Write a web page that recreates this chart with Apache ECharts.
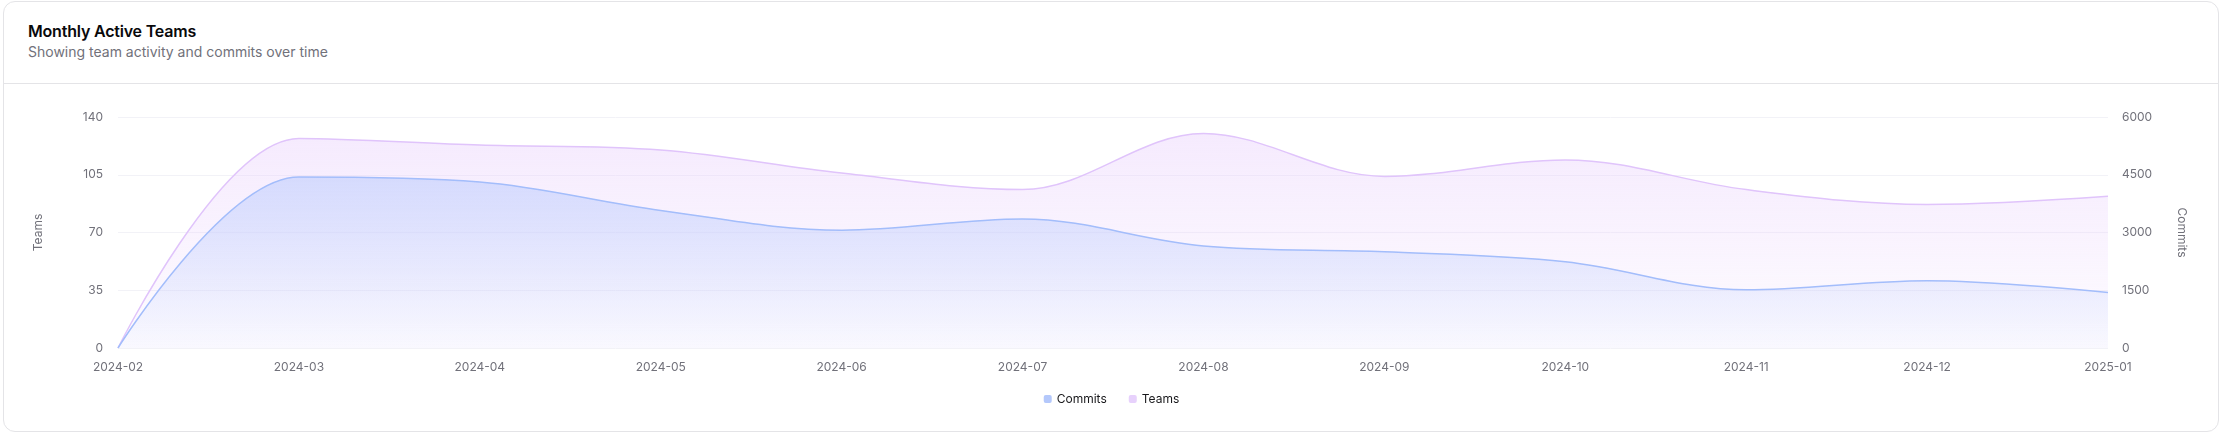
<!DOCTYPE html>
<html>
<head>
<meta charset="utf-8">
<script src="https://cdn.jsdelivr.net/npm/echarts@6/dist/echarts.min.js"></script>
<style>
  html, body { margin: 0; padding: 0; width: 2223px; height: 436px; background: #ffffff; overflow: hidden; font-family: Inter, "Noto Sans", sans-serif; }
  #card { position: absolute; left: 3px; top: 1px; width: 2216px; height: 431px; box-sizing: border-box; border: 1px solid #e4e4e7; border-radius: 12px; background: #fff; }
  #header { padding: 18px 24px 21px 24px; border-bottom: 1px solid #e4e4e7; }
  #title { font-size: 16px; line-height: 22px; font-weight: 600; color: #09090b; letter-spacing: -0.2px; }
  #subtitle { font-size: 14px; line-height: 20px; color: #71717a; }
  #chart { position: absolute; left: 0; top: 0; width: 2223px; height: 436px; }
</style>
</head>
<body>
<div id="card">
  <div id="header">
    <div id="title">Monthly Active Teams</div>
    <div id="subtitle">Showing team activity and commits over time</div>
  </div>
</div>
<div id="chart"></div>
<script>
const categories = ['2024-02','2024-03','2024-04','2024-05','2024-06','2024-07','2024-08','2024-09','2024-10','2024-11','2024-12','2025-01'];
const commits = [0, 4440, 4310, 3570, 3060, 3350, 2650, 2500, 2240, 1510, 1750, 1440];
const teams = [0, 127, 123, 120, 106, 96, 130, 104, 114, 96, 87, 92];
const teamsTicks = [0, 35, 70, 105, 140];
const commitsTicks = [0, 1500, 3000, 4500, 6000];

const chart = echarts.init(document.getElementById('chart'), null, { renderer: 'canvas' });
const labelStyle = { color: '#71717a', fontSize: 12, fontFamily: 'Inter' };
chart.setOption({
  backgroundColor: 'transparent',
  animation: false,
  textStyle: { fontFamily: 'Inter' },
  legend: {
    data: ['Commits', 'Teams'],
    bottom: 26,
    left: 'center',
    itemWidth: 8,
    itemHeight: 8,
    itemGap: 22,
    icon: 'roundRect',
    textStyle: { color: '#18181b', fontSize: 12, fontFamily: 'Inter' }
  },
  grid: { left: 118, right: 115, top: 117, bottom: 88, containLabel: false },
  xAxis: {
    type: 'category',
    data: categories,
    boundaryGap: false,
    axisLine: { show: false },
    axisTick: { show: false },
    axisLabel: Object.assign({ margin: 13, interval: 0 }, labelStyle),
    splitLine: { show: false }
  },
  yAxis: [
    {
      type: 'value',
      name: 'Teams',
      nameLocation: 'middle',
      nameGap: 74,
      nameTextStyle: { color: '#71717a', fontSize: 12, fontFamily: 'Inter' },
      min: teamsTicks[0],
      max: teamsTicks[teamsTicks.length - 1],
      interval: teamsTicks[1] - teamsTicks[0],
      axisLine: { show: false },
      axisTick: { show: false },
      axisLabel: Object.assign({ margin: 15 }, labelStyle),
      splitLine: { lineStyle: { color: '#f2f2f7', width: 1 } }
    },
    {
      type: 'value',
      name: 'Commits',
      nameLocation: 'middle',
      nameGap: 68,
      nameRotate: -90,
      nameTextStyle: { color: '#71717a', fontSize: 12, fontFamily: 'Inter' },
      position: 'right',
      min: commitsTicks[0],
      max: commitsTicks[commitsTicks.length - 1],
      interval: commitsTicks[1] - commitsTicks[0],
      axisLine: { show: false },
      axisTick: { show: false },
      axisLabel: Object.assign({ margin: 14, formatter: function (v) { return String(v); } }, labelStyle),
      splitLine: { show: false }
    }
  ],
  series: [
    {
      name: 'Commits',
      type: 'line',
      yAxisIndex: 1,
      data: commits,
      smooth: 0.35,
      showSymbol: false,
      symbol: 'none',
      itemStyle: { color: '#b4c8fb' },
      lineStyle: { color: '#a3bdfb', width: 1.5 },
      areaStyle: {
        color: new echarts.graphic.LinearGradient(0, 0, 0, 1, [
          { offset: 0, color: 'rgba(188, 204, 253, 0.82)' },
          { offset: 1, color: 'rgba(188, 204, 253, 0.1)' }
        ])
      },
      z: 3
    },
    {
      name: 'Teams',
      type: 'line',
      yAxisIndex: 0,
      data: teams,
      smooth: 0.35,
      showSymbol: false,
      symbol: 'none',
      itemStyle: { color: '#e7d1fc' },
      lineStyle: { color: '#e0c4fb', width: 1.5 },
      areaStyle: {
        color: new echarts.graphic.LinearGradient(0, 0, 0, 1, [
          { offset: 0, color: 'rgba(232, 206, 252, 0.6)' },
          { offset: 1, color: 'rgba(232, 206, 252, 0.08)' }
        ])
      },
      z: 2
    }
  ]
});
</script>
</body>
</html>
